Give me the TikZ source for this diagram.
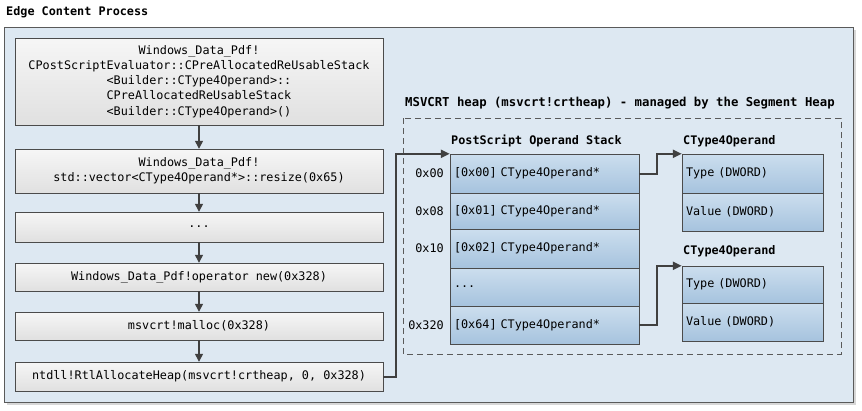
\documentclass[tikz,border=0pt]{standalone}
\usepackage{fontspec}
\setmonofont{DejaVu Sans Mono}
\usetikzlibrary{arrows.meta}

\definecolor{panelblue}{RGB}{221,232,242}
\definecolor{framegray}{RGB}{90,90,90}
\definecolor{shadowgray}{RGB}{215,215,215}
\definecolor{boxgray}{RGB}{75,75,75}
\definecolor{linegray}{RGB}{64,64,64}
\definecolor{callhi}{RGB}{246,246,246}
\definecolor{calllo}{RGB}{224,224,224}
\definecolor{slothi}{RGB}{204,222,238}
\definecolor{slotlo}{RGB}{166,195,222}

\tikzset{
  every node/.style={font=\ttfamily\fontsize{11.8}{15.2}\selectfont},
  callbox/.style={draw=boxgray, top color=callhi, bottom color=calllo,
    minimum width=368pt, align=center, inner sep=0pt},
  slotbox/.style={draw=boxgray, top color=slothi, bottom color=slotlo,
    minimum width=189pt, text width=181pt, align=left, inner xsep=4pt, inner ysep=0pt},
  fieldbox/.style={draw=boxgray, top color=slothi, bottom color=slotlo,
    minimum width=141pt, text width=133pt, align=left, inner xsep=4pt, inner ysep=0pt},
  heading/.style={font=\ttfamily\bfseries\fontsize{11.8}{14}\selectfont, anchor=west, inner sep=0pt},
  offset/.style={anchor=east, inner sep=0pt},
  flow/.style={draw=linegray, line width=1.3pt, -{Triangle[length=8pt,width=8pt]}},
  link/.style={draw=linegray, line width=2pt, -{Triangle[length=9pt,width=8pt]}}
}

\begin{document}
\begin{tikzpicture}[x=1pt, y=-1pt]
  \useasboundingbox (0,0) rectangle (862,410);

  % process panel
  \fill[shadowgray] (7,30) rectangle (856,405);
  \draw[framegray, fill=panelblue, line width=0.8pt] (4,27) rectangle (853,402);
  \node[heading] (proctitle) at (6,12) {Edge Content Process};

  % call chain
  \node[callbox, minimum height=87pt] (ctor) at (199,81.5)
    {Windows\_Data\_Pdf!\\CPostScriptEvaluator::CPreAllocatedReUsableStack\\<Builder::CType4Operand>::\\CPreAllocatedReUsableStack\\<Builder::CType4Operand>()};
  \node[callbox, minimum height=44pt] (resize) at (199,171)
    {Windows\_Data\_Pdf!\\std::vector<CType4Operand*>::resize(0x65)};
  \node[callbox, minimum height=30pt] (skip) at (199,227) {...};
  \node[callbox, minimum height=28pt] (opnew) at (199,277) {Windows\_Data\_Pdf!operator new(0x328)};
  \node[callbox, minimum height=28pt] (malloc) at (199,326) {msvcrt!malloc(0x328)};
  \node[callbox, minimum height=29pt] (rtlalloc) at (199,376.5) {ntdll!RtlAllocateHeap(msvcrt!crtheap, 0, 0x328)};

  \draw[flow] (ctor) to (resize);
  \draw[flow] (resize) to (skip);
  \draw[flow] (skip) to (opnew);
  \draw[flow] (opnew) to (malloc);
  \draw[flow] (malloc) to (rtlalloc);

  % heap
  \node[heading, font=\ttfamily\bfseries\fontsize{12.3}{14}\selectfont] (heaptitle) at (405,103)
    {MSVCRT heap (msvcrt!crtheap) - managed by the Segment Heap};
  \draw[framegray, dash pattern=on 6pt off 4pt, line width=0.8pt] (403,118) rectangle (841,354);

  % operand stack
  \node[heading] (stacktitle) at (451,141) {PostScript Operand Stack};
  \node[slotbox, minimum height=39pt] (slot0) at (544.5,173.5) {[0x00] CType4Operand*};
  \node[slotbox, minimum height=36pt] (slot1) at (544.5,211) {[0x01] CType4Operand*};
  \node[slotbox, minimum height=39pt] (slot2) at (544.5,248.5) {[0x02] CType4Operand*};
  \node[slotbox, minimum height=38pt] (slot3) at (544.5,287) {...};
  \node[slotbox, minimum height=38pt] (slot4) at (544.5,325) {[0x64] CType4Operand*};

  \node[offset] (off0) at (444,173.5) {0x00};
  \node[offset] (off1) at (444,211) {0x08};
  \node[offset] (off2) at (444,248.5) {0x10};
  \node[offset] (off4) at (444,325) {0x320};

  % operands
  \node[heading] (optitlea) at (683,141) {CType4Operand};
  \node[fieldbox, minimum height=39pt] (typea) at (752.5,173.5) {Type (DWORD)};
  \node[fieldbox, minimum height=38pt] (valuea) at (752.5,212) {Value (DWORD)};

  \node[heading] (optitleb) at (683,251) {CType4Operand};
  \node[fieldbox, minimum height=37pt] (typeb) at (752.5,284.5) {Type (DWORD)};
  \node[fieldbox, minimum height=38pt] (valueb) at (752.5,322) {Value (DWORD)};

  \draw[link] (rtlalloc.east) -- ++(13,0) |- (slot0.north west);
  \draw[link] (slot0.east) -- ++(18,0) |- (typea.north west);
  \draw[link] (slot4.east) -- ++(18,0) |- (typeb.north west);
\end{tikzpicture}
\end{document}
